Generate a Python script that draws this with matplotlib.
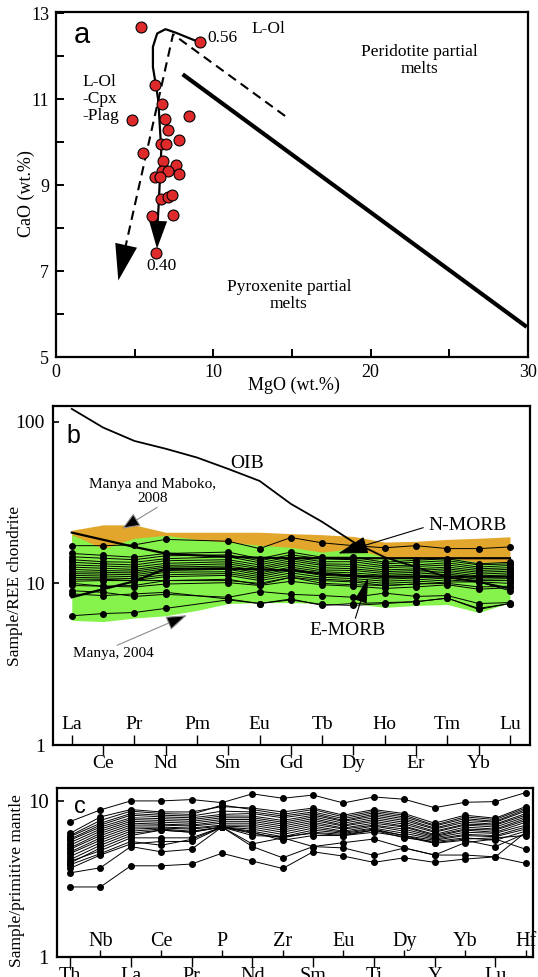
import numpy as np
import matplotlib
matplotlib.use("Agg")
import matplotlib.pyplot as plt
from matplotlib.ticker import NullLocator

plt.rcParams['font.family'] = ['Liberation Serif', 'DejaVu Serif']

# ---------------- data: panel a ----------------
mgo = [5.38, 9.14, 6.27, 4.85, 8.44, 6.73, 6.92, 7.15, 7.81, 6.69, 6.98, 5.54, 6.81,
       7.60, 6.73, 7.09, 7.81, 6.27, 6.60, 6.69, 7.09, 7.38, 6.11, 7.41, 6.35]
cao = [12.68, 12.33, 11.33, 10.51, 10.60, 10.90, 10.53, 10.29, 10.05, 9.95, 9.95, 9.74, 9.57,
       9.47, 9.34, 9.33, 9.25, 9.19, 9.20, 8.68, 8.73, 8.78, 8.29, 8.30, 7.43]
curve_mgo = [9.08, 7.60, 6.96, 6.43, 6.16, 6.16, 6.50, 6.69, 6.54, 6.45]
curve_cao = [12.33, 12.55, 12.63, 12.53, 12.22, 11.75, 10.98, 9.81, 8.65, 8.05]
curve_tip = (6.42, 7.52)
dash_mgo = [14.56, 7.44, 4.10]
dash_cao = [10.61, 12.51, 7.05]
dash_tip = (3.96, 6.78)
thick_mgo = [8.05, 29.92]
thick_cao = [11.58, 5.70]

# ---------------- data: panel b ----------------
ree = ['La', 'Ce', 'Pr', 'Nd', 'Pm', 'Sm', 'Eu', 'Gd', 'Tb', 'Dy', 'Ho', 'Er', 'Tm', 'Yb', 'Lu']
oib = [120, 92, 76, 68, 60, 51, 43, 31, 24, 18, 14.5, 12.6, 10.9, 10.2, 9.3]
morb_a = [20.6, 18.6, 16.8, 15.3, 14.9, 14.6, 14.4, 14.3, 14.3, 14.3, 14.3, 14.3, 14.3, 14.3, 14.3]
morb_b = [8.2, 9.2, 10.3, 12.3, 12.3, 12.3, 12.2, 12.0, 11.5, 11.1, 11.0, 11.0, 11.0, 11.0, 11.0]
green_lo = [5.9, 5.8, 6.1, 6.3, 6.8, 7.5, 7.6, 7.6, 7.5, 7.5, 7.1, 7.3, 7.4, 6.6, 7.6]
green_hi = [20.0, 16.4, 19.0, 19.8, 18.7, 18.0, 17.2, 16.7, 15.6, 16.4, 14.5, 14.3, 14.5, 13.5, 13.5]
orange_lo = [17.0, 15.5, 17.0, 18.0, 17.5, 17.0, 16.0, 15.5, 14.5, 15.0, 13.5, 13.5, 13.5, 12.5, 12.5]
orange_hi = [21.3, 23.0, 23.0, 20.7, 20.7, 20.7, 20.7, 20.3, 20.0, 19.5, 18.0, 18.2, 18.7, 19.0, 19.4]

# samples: La Ce Pr Nd Sm Eu Gd Tb Dy Ho Er Tm Yb Lu (no Pm)
ree_samples = [
    [17.1, 17.1, 17.3, 18.7, 18.2, 16.4, 19.2, 17.8, 17.1, 16.6, 17.1, 16.4, 16.4, 16.8],
    [15.3, 14.9, 14.5, 15.3, 15.6, 14.2, 15.6, 14.5, 14.5, 13.5, 13.9, 14.2, 13.2, 13.5],
    [14.6, 14.3, 14.0, 14.8, 15.0, 13.8, 15.0, 14.2, 14.0, 13.2, 13.5, 13.8, 13.0, 13.2],
    [14.0, 13.6, 13.5, 14.2, 14.6, 13.4, 14.6, 13.6, 13.6, 12.8, 13.0, 13.4, 12.6, 12.9],
    [13.5, 13.2, 13.0, 13.8, 14.0, 13.0, 14.2, 13.2, 13.1, 12.5, 12.7, 13.0, 12.3, 12.5],
    [13.0, 12.8, 12.6, 13.3, 13.6, 12.6, 13.8, 12.9, 12.7, 12.1, 12.3, 12.6, 12.0, 12.2],
    [12.6, 12.4, 12.2, 12.9, 13.2, 12.3, 13.4, 12.5, 12.3, 11.8, 12.0, 12.3, 11.7, 11.9],
    [12.2, 12.0, 11.9, 12.6, 12.8, 12.0, 13.0, 12.1, 12.0, 11.5, 11.7, 12.0, 11.4, 11.6],
    [11.8, 11.7, 11.6, 12.3, 12.5, 11.6, 12.6, 11.8, 11.6, 11.2, 11.4, 11.7, 11.1, 11.3],
    [11.5, 11.4, 11.3, 12.0, 12.2, 11.3, 12.3, 11.5, 11.3, 10.9, 11.1, 11.4, 10.9, 11.0],
    [11.2, 11.1, 11.0, 11.7, 11.8, 11.0, 12.0, 11.2, 11.0, 10.6, 10.8, 11.1, 10.6, 10.7],
    [10.9, 10.8, 10.7, 11.3, 11.5, 10.7, 11.6, 10.9, 10.7, 10.3, 10.5, 10.8, 10.4, 10.4],
    [10.6, 10.6, 10.4, 11.0, 11.2, 10.4, 11.2, 10.6, 10.4, 10.0, 10.2, 10.5, 10.2, 10.0],
    [10.3, 10.4, 10.4, 10.4, 10.4, 10.0, 10.9, 10.4, 10.2, 9.7, 9.9, 10.2, 10.2, 9.0],
    [10.0, 9.6, 9.7, 10.4, 10.6, 9.8, 10.9, 10.0, 9.8, 9.7, 9.9, 10.0, 9.5, 9.6],
    [9.7, 9.6, 9.5, 9.9, 10.1, 9.7, 10.3, 9.8, 9.6, 9.3, 9.5, 9.8, 9.2, 9.4],
    [9.0, 8.8, 8.3, 8.55, 8.2, 8.9, 8.55, 8.4, 8.2, 8.7, 8.3, 8.4, 7.5, 7.6],
    [8.6, 8.4, 8.6, 8.8, 8.0, 7.5, 8.0, 7.3, 7.5, 7.6, 7.7, 8.1, 7.0, 7.5],
    [6.3, 6.5, 6.6, 7.0, 7.9, 7.5, 7.9, 7.4, 7.3, 7.5, 7.7, 8.1, 6.9, 7.5],
]

# ---------------- data: panel c ----------------
spider = ['Th', 'Nb', 'La', 'Ce', 'Pr', 'P', 'Nd', 'Zr', 'Sm', 'Eu', 'Ti', 'Dy', 'Y', 'Yb', 'Lu', 'Hf']
pm_samples = [
    [7.37, 8.76, 10.0, 10.0, 10.2, 9.75, 11.1, 10.4, 10.9, 9.7, 10.6, 10.25, 9.05, 9.8, 9.9, 11.3],
    [6.2, 7.9, 8.8, 8.5, 8.5, 9.2, 9.0, 8.5, 9.0, 8.1, 8.8, 8.3, 7.2, 8.1, 7.75, 9.2],
    [6.0, 7.5, 8.6, 8.3, 8.2, 9.4, 8.8, 8.2, 8.8, 7.9, 8.6, 8.1, 7.0, 7.9, 7.6, 9.0],
    [5.9, 7.2, 8.3, 8.1, 8.0, 8.6, 8.5, 8.0, 8.5, 7.7, 8.4, 7.9, 6.9, 7.7, 7.4, 8.8],
    [5.7, 7.0, 8.1, 7.9, 7.8, 8.2, 8.3, 7.8, 8.3, 7.5, 8.2, 7.7, 6.7, 7.5, 7.3, 8.6],
    [5.6, 6.8, 7.8, 7.7, 7.6, 8.0, 8.0, 7.5, 8.1, 7.4, 8.0, 7.5, 6.6, 7.3, 7.1, 8.3],
    [5.4, 6.6, 7.6, 7.5, 7.4, 7.8, 7.8, 7.3, 7.9, 7.2, 7.8, 7.3, 6.4, 7.1, 7.0, 8.1],
    [5.2, 6.4, 7.4, 7.3, 7.2, 7.6, 7.6, 7.1, 7.7, 7.0, 7.6, 7.1, 6.3, 7.0, 6.8, 7.9],
    [5.0, 6.2, 7.2, 7.1, 7.0, 7.4, 7.4, 6.9, 7.5, 6.9, 7.4, 6.9, 6.1, 6.8, 6.6, 7.7],
    [4.9, 6.0, 7.0, 7.0, 6.9, 7.2, 7.2, 6.7, 7.3, 6.7, 7.2, 6.8, 6.0, 6.6, 6.5, 7.5],
    [4.7, 5.8, 6.8, 6.8, 6.7, 7.0, 7.0, 6.5, 7.1, 6.6, 7.0, 6.6, 5.9, 6.5, 6.3, 7.3],
    [4.6, 5.6, 6.6, 6.7, 6.6, 6.9, 6.8, 6.3, 6.9, 6.4, 6.9, 6.4, 5.8, 6.3, 6.2, 7.0],
    [4.4, 5.4, 6.4, 6.6, 6.4, 6.8, 6.6, 6.1, 6.7, 6.3, 6.7, 6.2, 5.7, 6.1, 6.0, 6.8],
    [4.2, 5.2, 6.2, 6.5, 6.3, 6.8, 6.4, 5.9, 6.5, 6.2, 6.6, 6.0, 5.6, 6.0, 5.9, 6.6],
    [4.0, 5.0, 6.0, 6.5, 6.3, 6.8, 6.2, 5.8, 6.3, 6.1, 6.5, 5.8, 5.5, 5.8, 5.6, 6.4],
    [4.1, 4.8, 5.8, 5.8, 5.8, 6.8, 6.3, 5.6, 6.0, 6.0, 6.3, 5.9, 5.35, 5.6, 5.1, 6.2],
    [3.7, 4.5, 5.3, 5.5, 5.5, 6.8, 6.0, 5.9, 6.2, 6.0, 6.5, 6.0, 5.4, 5.7, 5.8, 6.0],
    [3.9, 4.6, 5.5, 5.2, 5.67, 6.8, 5.3, 5.8, 5.1, 5.4, 5.7, 5.0, 4.5, 5.4, 5.7, 4.9],
    [3.46, 3.73, 5.1, 4.72, 4.9, 6.8, 5.1, 4.32, 5.1, 5.0, 4.48, 4.99, 4.5, 4.5, 4.38, 6.3],
    [2.81, 2.81, 3.84, 3.84, 3.94, 4.62, 4.12, 3.69, 4.72, 4.43, 4.04, 4.32, 4.04, 4.24, 4.38, 3.98],
]

W, H = 538, 977
fig = plt.figure(figsize=(W / 100, H / 100), dpi=100)


def box(l, t, r, b):
    return [l / W, 1 - b / H, (r - l) / W, (b - t) / H]


def head(ax, tip, tail, hl, hw, color='black'):
    ax.annotate('', xy=tip, xytext=tail,
                arrowprops=dict(arrowstyle=f'-|>,head_length={hl},head_width={hw}',
                                mutation_scale=10, lw=0, color=color,
                                shrinkA=0, shrinkB=0))


def leader(ax, tip, tail, hl, hw, linecolor='black'):
    ax.annotate('', xy=tip, xytext=tail,
                arrowprops=dict(arrowstyle=f'-|>,head_length={hl},head_width={hw}',
                                mutation_scale=10, lw=0.8, edgecolor=linecolor,
                                facecolor='black', shrinkA=0, shrinkB=0))


# ================= panel a =================
axa = fig.add_axes(box(56, 12, 528, 357))
axa.set_xlim(0, 30)
axa.set_ylim(5, 13.03)
axa.set_xticks([0, 10, 20, 30])
axa.set_xticks([5, 15, 25], minor=True)
axa.set_yticks([5, 7, 9, 11, 13])
axa.set_yticks([6, 8, 10, 12], minor=True)
axa.tick_params(which='both', direction='in', length=6, width=1.4, labelsize=13, pad=5)
for s in axa.spines.values():
    s.set_linewidth(1.6)

axa.plot(thick_mgo, thick_cao, color='black', lw=3.0, solid_capstyle='butt')
axa.plot(dash_mgo, dash_cao, color='black', lw=1.5, dashes=(4.5, 2.8))
head(axa, dash_tip, (dash_mgo[1], dash_cao[1]), 2.6, 0.8)
axa.plot(curve_mgo, curve_cao, color='black', lw=1.6)
head(axa, curve_tip, (curve_mgo[-2], curve_cao[-2]), 2.0, 0.65)
axa.scatter(mgo, cao, s=62, color='#df2a2c', edgecolor='black', linewidth=0.8, zorder=5)

axa.text(1.65, 12.49, 'a', family='Liberation Sans', fontsize=21, ha='center', va='center')
axa.text(9.6, 12.42, '0.56', fontsize=12.5, ha='left', va='center')
axa.text(12.4, 12.63, 'L-Ol', fontsize=12.5, ha='left', va='center')
axa.text(23.1, 11.9, 'Peridotite partial\nmelts', fontsize=12.5, ha='center', va='center',
         linespacing=1.1)
axa.text(1.7, 11.0, 'L-Ol\n-Cpx\n-Plag', fontsize=12.5, ha='left', va='center', linespacing=1.1)
axa.text(6.7, 7.12, '0.40', fontsize=12.5, ha='center', va='center')
axa.text(14.8, 6.43, 'Pyroxenite partial\nmelts', fontsize=12.5, ha='center', va='center',
         linespacing=1.1)
axa.set_xlabel('MgO (wt.%)', fontsize=13)
axa.set_ylabel('CaO (wt.%)', fontsize=13)
axa.xaxis.set_label_coords(0.504, -0.058)
axa.yaxis.set_label_coords(-0.045, 0.475)

# ================= panel b =================
axb = fig.add_axes(box(53, 406, 530, 745))
axb.set_yscale('log')
axb.set_xlim(-0.6, 14.64)
axb.set_ylim(1, 125)
xr = np.arange(len(ree))
xs = np.array([i for i, e in enumerate(ree) if e != 'Pm'])

axb.fill_between(xr, orange_lo, orange_hi, color='#e2a62c', lw=0, zorder=1)
axb.fill_between(xr, green_lo, green_hi, color='#86f24c', lw=0, zorder=2)
for row in ree_samples:
    axb.plot(xs, row, color='black', lw=0.7, marker='o', ms=4, zorder=3)
axb.plot(xr, oib, color='black', lw=1.3, zorder=4)
axb.plot(xr, morb_a, color='black', lw=1.6, zorder=4)
axb.plot(xr, morb_b, color='black', lw=1.6, zorder=4)

axb.set_yticks([1, 10, 100])
axb.set_yticklabels(['1', '10', '100'])
axb.yaxis.set_minor_locator(NullLocator())
axb.tick_params(axis='y', direction='in', length=4, width=1.2, labelsize=14, pad=6)
axb.set_xticks(xr[1::2], labels=ree[1::2])
axb.set_xticks(xr[0::2], labels=ree[0::2], minor=True)
axb.tick_params(axis='x', which='major', direction='out', length=7, width=1.0,
                labelsize=14, pad=0)
axb.tick_params(axis='x', which='minor', direction='in', length=7, width=1.0,
                labelsize=14, pad=-21)
for s in axb.spines.values():
    s.set_linewidth(1.6)

axb.text(0.04, 82, 'b', family='Liberation Sans', fontsize=18, ha='center', va='center')
axb.text(5.6, 55, 'OIB', fontsize=14, ha='center', va='center')
axb.text(2.57, 37, 'Manya and Maboko,\n2008', fontsize=11, ha='center', va='center',
         linespacing=1.1)
leader(axb, (1.61, 21.8), (2.73, 29.5), 1.1, 0.45, linecolor='0.55')
axb.text(12.63, 22.8, 'N-MORB', fontsize=14, ha='center', va='center')
leader(axb, (8.51, 15.3), (11.23, 22.1), 1.9, 0.55)
axb.text(8.8, 5.13, 'E-MORB', fontsize=14, ha='center', va='center')
leader(axb, (9.47, 10.87), (9.06, 6.08), 1.6, 0.4)
axb.text(1.32, 3.7, 'Manya, 2004', fontsize=11, ha='center', va='center')
leader(axb, (3.68, 6.35), (1.45, 4.14), 1.3, 0.45, linecolor='0.55')
axb.set_ylabel('Sample/REE chondrite', fontsize=12.5)
axb.yaxis.set_label_coords(-0.063, 0.47)

# ================= panel c =================
axc = fig.add_axes(box(57, 788, 533, 957))
axc.set_yscale('log')
axc.set_xlim(-0.43, 15.24)
axc.set_ylim(1, 12.1)
xc = np.arange(len(spider))
for row in pm_samples:
    axc.plot(xc, row, color='black', lw=0.7, marker='o', ms=4, zorder=3)
axc.set_yticks([1, 10])
axc.set_yticklabels(['1', '10'])
axc.yaxis.set_minor_locator(NullLocator())
axc.tick_params(axis='y', direction='in', length=5, width=1.2, labelsize=15, pad=6)
axc.set_xticks(xc[0::2], labels=spider[0::2])
axc.set_xticks(xc[1::2], labels=spider[1::2], minor=True)
axc.tick_params(axis='x', which='major', direction='out', length=7, width=1.0,
                labelsize=14.5, pad=0)
axc.tick_params(axis='x', which='minor', direction='in', length=5, width=1.0,
                labelsize=14.5, pad=-18)
for s in axc.spines.values():
    s.set_linewidth(1.6)
axc.text(0.33, 9.15, 'c', family='Liberation Sans', fontsize=17, ha='center', va='center')
axc.set_ylabel('Sample/primitive mantle', fontsize=12.5)
axc.yaxis.set_label_coords(-0.067, 0.45)

fig.savefig('out.png', dpi=100)
